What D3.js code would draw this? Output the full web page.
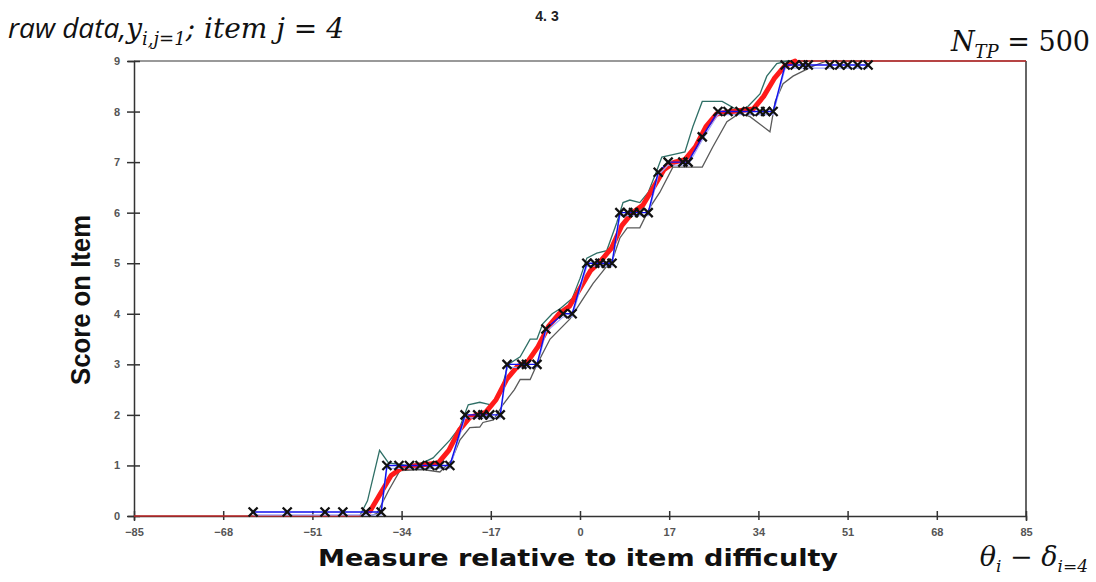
<!DOCTYPE html>
<html>
<head>
<meta charset="utf-8">
<script src="https://cdn.jsdelivr.net/npm/d3@7"></script>
<style>
  body { margin: 0; background: #fff; }
  svg { display: block; }
</style>
</head>
<body>
<svg id="chart"></svg>
<script>
var width = 1096, height = 582
var margin = { top: 61, right: 70, bottom: 66, left: 134 }

// tick labels
var xTicks = [-85, -68, -51, -34, -17, 0, 17, 34, 51, 68, 85]
var yTicks = [0, 1, 2, 3, 4, 5, 6, 7, 8, 9]

// raw observed data (x markers)
var rawX = [-62.3, -55.8, -48.6, -45.2, -40.8, -37.9,
            -36.8, -34.5, -32.5, -30.5, -28.6, -26.7, -24.8,
            -21.9, -19.5, -18.5, -17.2, -15.2,
            -13.9, -11.1, -10.2, -8.2,
            -6.5,
            -3.2, -1.5,
            1.3, 2.8, 3.8, 5.0, 6.1,
            7.6, 9.1, 10.2, 11.4, 13.0,
            14.9,
            16.8, 19.6, 20.6,
            23.3,
            26.3, 28.2, 30.5, 32.4, 34.3, 35.4, 36.8,
            39.1, 41.0, 42.5, 43.5, 47.6, 49.5, 51.0, 52.9, 54.9]
var rawY = [0.08, 0.08, 0.08, 0.08, 0.08, 0.08,
            1, 1, 1, 1, 1, 1, 1,
            2, 2, 2, 2, 2,
            3, 3, 3, 3,
            3.7,
            4, 4,
            5, 5, 5, 5, 5,
            6, 6, 6, 6, 6,
            6.8,
            7, 7, 7,
            7.5,
            8, 8, 8, 8, 8, 8, 8,
            8.92, 8.92, 8.92, 8.92, 8.92, 8.92, 8.92, 8.92, 8.92]

// model expected score curve
var modelX = [-85, -42, -40, -38, -36, -34, -31, -27, -25, -23, -21, -18, -16, -14, -12, -10, -8, -6, -4, -2,
              0, 2, 4, 6, 8, 10, 12, 14, 16, 18, 20, 22, 24, 26, 29, 33, 35, 37, 39, 41, 85]
var modelY = [0, 0, 0.1, 0.45, 0.8, 0.95, 1.0, 1.05, 1.3, 1.7, 1.95, 2.05, 2.3, 2.7, 2.95, 3.05, 3.35, 3.75, 4.0, 4.15,
              4.5, 4.85, 5.05, 5.3, 5.75, 6.0, 6.15, 6.5, 6.85, 7.0, 7.05, 7.3, 7.7, 7.95, 8.0, 8.05, 8.3, 8.65, 8.9, 9.0, 9.0]

// upper confidence band
var upperX = [-42, -40.5, -38.2, -36.5, -33, -30, -28, -24.8, -22.9, -21.3, -19.1, -17, -15.1, -13.7, -11.4, -9.5, -8.2, -7.1, -5.3, -3.8,
              -1.5, 0, 1.3, 3.2, 5.1, 7.0, 8.2, 9.5, 11.4, 13.0, 14.7, 15.6, 17.7, 20.0, 21.5, 23.3, 24.8, 27.1, 30.5, 32.0,
              34.3, 35.6, 37.5, 39.6, 42]
var upperY = [0, 0.3, 1.3, 1.05, 1.0, 1.05, 1.15, 1.5, 1.76, 2.2, 2.25, 2.2, 2.45, 3.0, 3.15, 3.5, 3.5, 3.8, 4.0, 4.1,
              4.3, 4.7, 5.1, 5.2, 5.25, 5.8, 6.2, 6.25, 6.2, 6.4, 6.85, 7.1, 7.15, 7.2, 7.7, 8.2, 8.2, 8.2, 8.0, 8.1,
              8.35, 8.7, 8.95, 9.0, 9.0]

// lower confidence band
var lowerX = [-40, -38.7, -36.5, -34.3, -30, -26.7, -24.5, -22.9, -21, -19.1, -18.5, -16.5, -14.7, -12.5, -11.4, -9.5, -8.2, -5.7, -1.9, 0.6,
              2.5, 4.4, 6.3, 7.6, 9.0, 11.4, 13.3, 15.2, 17.7, 23.3, 25.3, 28.0, 30.5, 32.4, 36.2, 37.2, 38.7, 40.6, 42.5, 44.4, 47]
var lowerY = [0, 0.05, 0.5, 0.9, 0.92, 0.87, 1.1, 1.5, 1.75, 1.76, 1.85, 1.9, 2.2, 2.5, 2.7, 2.7, 3.0, 3.5, 3.9, 4.3,
              4.6, 4.85, 5.1, 5.5, 5.7, 5.7, 6.1, 6.4, 6.9, 6.9, 7.3, 7.8, 7.97, 7.9, 7.6, 8.2, 8.55, 8.7, 8.8, 8.9, 9.0]

var svg = d3.select("#chart").attr("width", width).attr("height", height)

var xScale = d3.scaleLinear().domain([-85, 85]).range([margin.left, width - margin.right])
var yScale = d3.scaleLinear().domain([0, 9]).range([height - margin.bottom, margin.top])

var zip = (xs, ys) => xs.map((x, i) => [x, ys[i]])
var line = d3.line().x(d => xScale(d[0])).y(d => yScale(d[1]))

// frame (top and right)
svg.append("line")
    .attr("x1", xScale(-85)).attr("x2", xScale(85))
    .attr("y1", yScale(9)).attr("y2", yScale(9))
    .attr("stroke", "#777").attr("stroke-width", 1.5)
svg.append("line")
    .attr("x1", xScale(85)).attr("x2", xScale(85))
    .attr("y1", yScale(9)).attr("y2", yScale(0))
    .attr("stroke", "#333").attr("stroke-width", 1.5)

// axes
var xAxis = svg.append("g")
    .attr("transform", "translate(0," + yScale(0) + ")")
    .call(d3.axisBottom(xScale).tickValues(xTicks).tickSizeOuter(0).tickSize(5).tickPadding(7))
xAxis.selectAll(".tick line").attr("y1", -5).attr("y2", 4)

var yAxis = svg.append("g")
    .attr("transform", "translate(" + xScale(-85) + ",0)")
    .call(d3.axisLeft(yScale).tickValues(yTicks).tickSizeOuter(0).tickSize(6).tickPadding(8))
yAxis.selectAll(".tick line").attr("x1", -7).attr("x2", 6)

svg.selectAll(".domain").attr("stroke", "#333").attr("stroke-width", 1.5)
svg.selectAll(".tick line").attr("stroke", "#333").attr("stroke-width", 1.5)
svg.selectAll(".tick text")
    .attr("fill", "#555")
    .style("font-family", "Liberation Sans, Arial, sans-serif")
    .style("font-size", "11px")
    .style("font-weight", "bold")

// confidence bands
svg.append("path").datum(zip(upperX, upperY))
    .attr("d", line).attr("fill", "none")
    .attr("stroke", "#2f6f66").attr("stroke-width", 1.3)
svg.append("path").datum(zip(lowerX, lowerY))
    .attr("d", line).attr("fill", "none")
    .attr("stroke", "#5a5a5a").attr("stroke-width", 1.3)

// model curve: thin over whole range, thick in transition zone
var model = zip(modelX, modelY)
svg.append("path").datum(model)
    .attr("d", line).attr("fill", "none")
    .attr("stroke", "#c02828").attr("stroke-width", 1.5)
svg.append("path").datum(model.filter(d => d[0] > -42 && d[0] < 42))
    .attr("d", line).attr("fill", "none")
    .attr("stroke", "#ff1a1a").attr("stroke-width", 5)
    .attr("stroke-linecap", "round").attr("stroke-linejoin", "round")

// observed line
var raw = zip(rawX, rawY)
svg.append("path").datum(raw)
    .attr("d", line).attr("fill", "none")
    .attr("stroke", "#9fa8ff").attr("stroke-width", 1.2)
    .attr("transform", "translate(0,3)")
svg.append("path").datum(raw)
    .attr("d", line).attr("fill", "none")
    .attr("stroke", "#1010ee").attr("stroke-width", 1.4)

// x markers
var s = 4.5
svg.append("g").selectAll("path.mark")
    .data(raw)
    .enter()
    .append("path")
    .attr("class", "mark")
    .attr("d", d => {
        var cx = xScale(d[0]), cy = yScale(d[1])
        return "M" + (cx - s) + "," + (cy - s) + "L" + (cx + s) + "," + (cy + s) +
               "M" + (cx - s) + "," + (cy + s) + "L" + (cx + s) + "," + (cy - s)
    })
    .attr("stroke", "#111").attr("stroke-width", 2.3)

// titles and labels
svg.append("text")
    .attr("x", 547).attr("y", 21)
    .attr("text-anchor", "middle")
    .style("font-family", "Liberation Sans, Arial, sans-serif")
    .style("font-weight", "bold").style("font-size", "14px")
    .attr("fill", "#222")
    .text("4. 3")

var t1 = svg.append("text")
    .attr("x", 8).attr("y", 38)
    .style("font-size", "28px").attr("fill", "#111")
t1.append("tspan").style("font-family", "Open Sans, sans-serif").style("font-style", "italic").text("raw data,")
t1.append("tspan").style("font-family", "DejaVu Serif, serif").style("font-style", "italic").text("y")
t1.append("tspan").attr("dy", 7).style("font-family", "DejaVu Serif, serif").style("font-style", "italic")
    .style("font-size", "18px").text("i,j=1")
t1.append("tspan").attr("dy", -7).style("font-family", "DejaVu Serif, serif").style("font-style", "italic")
    .text("; item j = 4")

var t2 = svg.append("text")
    .attr("x", 1090).attr("y", 51).attr("text-anchor", "end")
    .style("font-size", "27px").attr("fill", "#111")
    .style("font-family", "DejaVu Serif, serif")
t2.append("tspan").style("font-style", "italic").text("N")
t2.append("tspan").attr("dy", 7).style("font-style", "italic").style("font-size", "18px").text("TP")
t2.append("tspan").attr("dy", -7).text(" = 500")

var t3 = svg.append("text")
    .attr("x", 1088).attr("y", 566).attr("text-anchor", "end")
    .style("font-size", "27px").attr("fill", "#111")
    .style("font-family", "DejaVu Serif, serif").style("font-style", "italic")
t3.append("tspan").text("θ")
t3.append("tspan").attr("dy", 6).style("font-size", "17px").text("i")
t3.append("tspan").attr("dy", -6).text(" − δ")
t3.append("tspan").attr("dy", 6).style("font-size", "17px").text("i=4")

svg.append("text")
    .attr("x", 578).attr("y", 566)
    .attr("text-anchor", "middle")
    .style("font-family", "DejaVu Sans, Liberation Sans, sans-serif")
    .style("font-weight", "bold").style("font-size", "23px")
    .attr("fill", "#111")
    .attr("textLength", 520)
    .attr("lengthAdjust", "spacingAndGlyphs")
    .text("Measure relative to item difficulty")

svg.append("text")
    .attr("transform", "translate(90,300) rotate(-90)")
    .attr("text-anchor", "middle")
    .style("font-family", "Liberation Sans, Arial, sans-serif")
    .style("font-weight", "bold").style("font-size", "28px")
    .attr("fill", "#111")
    .attr("textLength", 170)
    .attr("lengthAdjust", "spacingAndGlyphs")
    .text("Score on Item")
</script>
</body>
</html>
